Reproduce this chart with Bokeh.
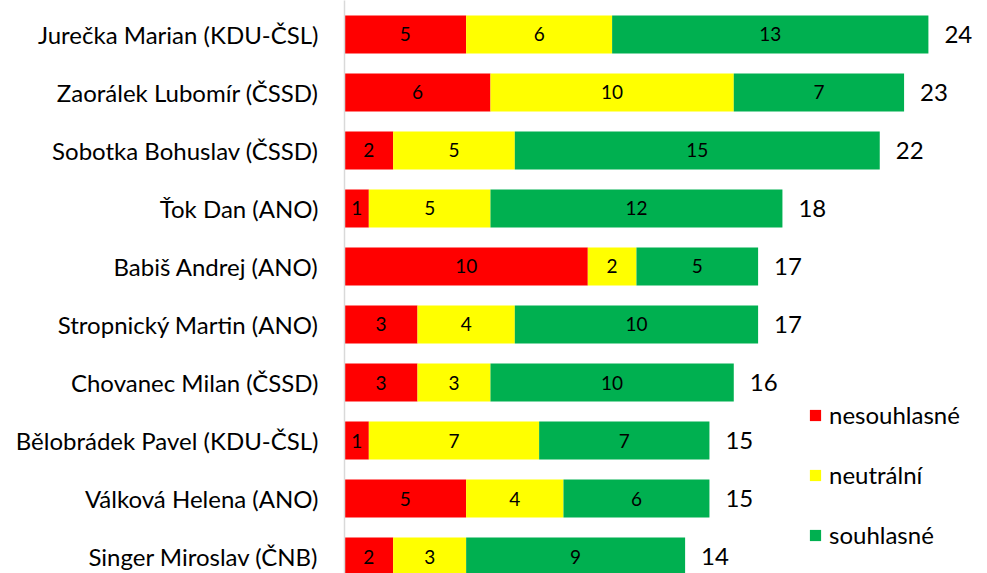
from bokeh.plotting import figure
from bokeh.models import ColumnDataSource, Range1d, FixedTicker, Legend, LegendItem
from bokeh.core.properties import value
from bokeh.embed import file_html
from bokeh.resources import INLINE

names = ["Jurečka Marian (KDU-ČSL)", "Zaorálek Lubomír (ČSSD)", "Sobotka Bohuslav (ČSSD)",
         "Ťok Dan (ANO)", "Babiš Andrej (ANO)", "Stropnický Martin (ANO)",
         "Chovanec Milan (ČSSD)", "Bělobrádek Pavel (KDU-ČSL)", "Válková Helena (ANO)",
         "Singer Miroslav (ČNB)"]
nesouhlasne = [5, 6, 2, 1, 10, 3, 3, 1, 5, 2]
neutralni = [6, 10, 5, 5, 2, 4, 3, 7, 4, 3]
souhlasne = [13, 7, 15, 12, 5, 10, 10, 7, 6, 9]
series_names = ["nesouhlasné", "neutrální", "souhlasné"]
colors = ["#FF0000", "#FFFF00", "#00B050"]

idx = list(range(len(names)))
series = [nesouhlasne, neutralni, souhlasne]
totals = [a + b + c for a, b, c in zip(*series)]

p = figure(width=979, height=573, output_backend="svg", toolbar_location=None,
           x_axis_location=None, x_range=Range1d(0, 26.1), y_range=Range1d(9.293, -0.586),
           min_border_left=344, min_border_right=0, min_border_top=0, min_border_bottom=0)
p.outline_line_color = None
p.grid.visible = False

font = value("Lato")
legend_items = []
left = [0] * len(names)
for vals, nm, col in zip(series, series_names, colors):
    right = [l + v for l, v in zip(left, vals)]
    src = ColumnDataSource(dict(y=idx, left=left, right=right,
                                cx=[(l + r) / 2 for l, r in zip(left, right)],
                                lab=[str(v) for v in vals]))
    r = p.hbar(y="y", left="left", right="right", height=0.655, source=src,
               fill_color=col, line_color=None)
    p.text(x="cx", y="y", text="lab", source=src, text_align="center",
           text_baseline="middle", text_font=font, text_font_size="19px", text_color="#000000")
    legend_items.append(LegendItem(label=nm, renderers=[r]))
    left = right

tsrc = ColumnDataSource(dict(y=idx, x=totals, lab=[str(t) for t in totals]))
p.text(x="x", y="y", text="lab", source=tsrc, text_align="left", text_baseline="middle",
       x_offset=16, text_font=font, text_font_size="24px", text_color="#000000")

ax = p.yaxis[0]
ax.ticker = FixedTicker(ticks=idx)
ax.major_label_overrides = {i: n for i, n in zip(idx, names)}
ax.major_label_text_font = "Lato"
ax.major_label_text_font_size = "24px"
ax.major_label_text_color = "#000000"
ax.major_tick_line_color = None
ax.minor_tick_line_color = None
ax.major_tick_out = 0
ax.major_label_standoff = 26
ax.axis_line_color = "#d9d9d9"
ax.axis_line_width = 1.5

legend = Legend(items=legend_items, location=(464, 24), orientation="vertical",
                glyph_width=14, glyph_height=14, label_height=28, spacing=31,
                padding=0, margin=0, label_standoff=7,
                label_text_font="Lato", label_text_font_size="24px",
                label_text_color="#000000", border_line_color=None,
                background_fill_alpha=0)
p.add_layout(legend)

open("out.html", "w").write(file_html(p, INLINE))
